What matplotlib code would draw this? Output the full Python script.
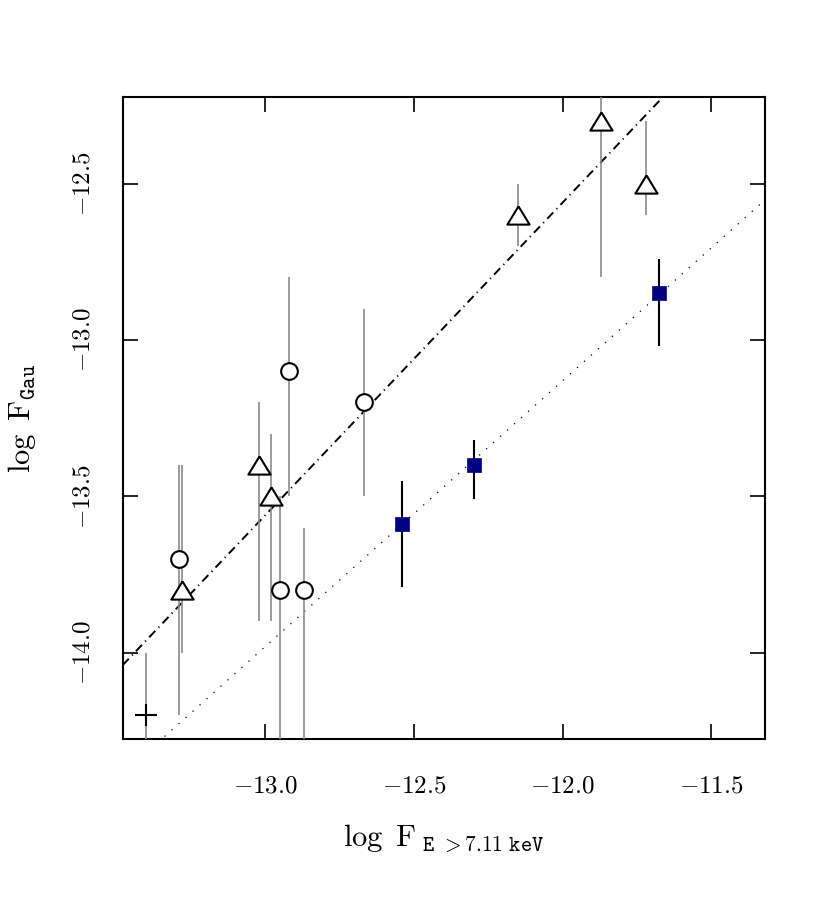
import numpy as np
import matplotlib
matplotlib.use('Agg')
import matplotlib.pyplot as plt

plt.rcParams['mathtext.fontset'] = 'cm'

# open triangles (grey error bars)
tri_x = [-13.28, -13.02, -12.98, -12.15, -11.87, -11.72]
tri_y = [-13.8, -13.4, -13.5, -12.6, -12.3, -12.5]
tri_lo = [-14.0, -13.9, -13.9, -12.7, -12.8, -12.6]
tri_hi = [-13.4, -13.2, -13.3, -12.5, -12.2, -12.3]

# open circles (grey error bars)
circ_x = [-13.29, -12.92, -12.95, -12.87, -12.67]
circ_y = [-13.7, -13.1, -13.8, -13.8, -13.2]
circ_lo = [-14.2, -13.5, -14.5, -14.4, -13.5]
circ_hi = [-13.4, -12.8, -13.5, -13.6, -12.9]

# cross
cross_x = [-13.40]
cross_y = [-14.2]
cross_lo = [-14.4]
cross_hi = [-14.0]

# filled squares (black error bars)
sq_x = [-12.54, -12.30, -11.675]
sq_y = [-13.59, -13.40, -12.85]
sq_lo = [-13.79, -13.51, -13.02]
sq_hi = [-13.45, -13.32, -12.74]

# fit lines: y = a + b*x
fit1_a, fit1_b = -0.56, 1.0
fit2_a, fit2_b = -2.93, 0.85

xticks = [-13.0, -12.5, -12.0, -11.5]
yticks = [-14.0, -13.5, -13.0, -12.5]
xlim = (-13.48, -11.32)
ylim = (-14.277, -12.222)


def errs(y, lo, hi):
    y = np.array(y)
    return [y - np.array(lo), np.array(hi) - y]


fig = plt.figure(figsize=(8.25, 9), dpi=100)
ax = fig.add_axes([0.1487, 0.1786, 0.7786, 0.714])

grey = '#8a8a8a'

xx = np.array(xlim)
ax.plot(xx, fit1_a + fit1_b * xx, color='black', lw=1.4,
        linestyle=(0, (4.5, 2.4, 0.6, 2.4)), zorder=2)
ax.plot(xx, fit2_a + fit2_b * xx, color='black', lw=0.9,
        linestyle=(0, (1, 6.5)), zorder=2)

ax.errorbar(tri_x, tri_y, yerr=errs(tri_y, tri_lo, tri_hi), fmt='none',
            ecolor=grey, elinewidth=1.2, capsize=0, zorder=3)
ax.errorbar(circ_x, circ_y, yerr=errs(circ_y, circ_lo, circ_hi), fmt='none',
            ecolor=grey, elinewidth=1.2, capsize=0, zorder=3)
ax.errorbar(cross_x, cross_y, yerr=errs(cross_y, cross_lo, cross_hi), fmt='none',
            ecolor=grey, elinewidth=1.2, capsize=0, zorder=3)
ax.errorbar(sq_x, sq_y, yerr=errs(sq_y, sq_lo, sq_hi), fmt='none',
            ecolor='black', elinewidth=1.5, capsize=0, zorder=3)

# slightly flattened triangle like the original
tri_marker = [(0, 0.82), (-1, -0.82), (1, -0.82), (0, 0.82)]
ax.plot(tri_x, tri_y, marker=tri_marker, ls='none', ms=16, mfc='white',
        mec='black', mew=1.5, zorder=4)
ax.plot(circ_x, circ_y, 'o', ms=12, mfc='white', mec='black', mew=1.5, zorder=4)
ax.plot(cross_x, cross_y, '+', ms=16, mec='black', mew=1.5, zorder=4)
ax.plot(sq_x, sq_y, 's', ms=9.5, mfc='#000080', mec='#000080', mew=0.5, zorder=4)

ax.set_xlim(xlim)
ax.set_ylim(ylim)
ax.set_xticks(xticks)
ax.set_yticks(yticks)
ax.set_xticklabels([r'$-%.1f$' % abs(v) for v in xticks])
ax.set_yticklabels([r'$-%.1f$' % abs(v) for v in yticks], rotation=90, va='center')

ax.tick_params(direction='in', length=11, width=1.2, top=True, right=True,
               labelsize=18)
ax.tick_params(axis='x', pad=25)
ax.tick_params(axis='y', pad=20)
for s in ax.spines.values():
    s.set_linewidth(1.5)

ax.set_xlabel(r'$\log\ \mathrm{F}_{\ \mathtt{E\ >7.11\ keV}}$', fontsize=22, labelpad=18)
ax.set_ylabel(r'$\log\ \mathrm{F}_{\mathtt{Gau}}$', fontsize=22, labelpad=24)

fig.savefig('out.png', dpi=100)
